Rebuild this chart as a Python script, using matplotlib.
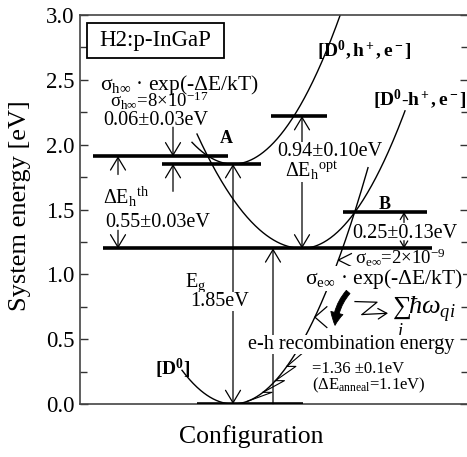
import numpy as np
import matplotlib.pyplot as plt
from matplotlib.patches import Rectangle, FancyArrowPatch

plt.rcParams["font.family"] = ["Liberation Serif", "DejaVu Serif"]
plt.rcParams["mathtext.fontset"] = "custom"
plt.rcParams["mathtext.rm"] = "Liberation Serif"
plt.rcParams["mathtext.it"] = "Liberation Serif:italic"
plt.rcParams["mathtext.bf"] = "Liberation Serif:bold"

# ---------------------------------------------------------------
# Energies [eV]
# ---------------------------------------------------------------
E_TH = 1.91        # thermal hole emission level
E_A = 1.85         # band gap, [D0, h+, e-] minimum
E_OPT = 2.22       # optical hole emission level
E_SHALLOW = 1.20   # [D0-h+, e-] minimum
E_B = 1.48         # crossing B
E_GROUND = 0.0     # [D0] minimum

level_energy = [E_TH, E_A, E_OPT, E_SHALLOW, E_B, E_GROUND]
level_span = [(0.13, 1.48), (0.82, 1.81), (1.91, 2.47),
              (0.23, 3.52), (2.63, 3.47), (1.17, 2.23)]

# parabolas: minimum position, minimum energy, curvature left/right, drawn range
curve_q0 = [1.53, 1.53, 2.22]
curve_e0 = [E_GROUND, E_A, E_SHALLOW]
curve_k = [(1.0, 1.0), (1.0, 1.0), (0.8, 1.0)]
curve_range = [(1.02, 2.88), (1.12, 2.62), (1.17, 3.25)]

ytick_major = [0.0, 0.5, 1.0, 1.5, 2.0, 2.5, 3.0]


def parabola(q, q0, e0, kl, kr):
    k = np.where(q < q0, kl, kr)
    return e0 + k * (q - q0) ** 2


def d0_q(e):
    # right branch of the [D0] curve at energy e
    return curve_q0[0] + np.sqrt(e / curve_k[0][1])


fig = plt.figure(figsize=(4.67, 4.57), dpi=100)
ax = fig.add_axes([80 / 467, 53 / 457, 388 / 467, 389 / 457])

# ---------------------------------------------------------------
# Curves and levels
# ---------------------------------------------------------------
for q0, e0, (kl, kr), (qa, qb) in zip(curve_q0, curve_e0, curve_k, curve_range):
    q = np.linspace(qa, qb, 300)
    ax.plot(q, parabola(q, q0, e0, kl, kr), color="black", lw=1.0, zorder=2)

for e, (qa, qb) in zip(level_energy, level_span):
    ax.plot([qa, qb], [e, e], color="black", lw=2.6, solid_capstyle="butt", zorder=3)


def arrow(q, e_from, e_to, style="->", scale=20, hl=0.45, hw=0.27):
    ax.annotate("", xy=(q, e_to), xytext=(q, e_from),
                arrowprops=dict(arrowstyle=f"{style},head_length={hl},head_width={hw}",
                                lw=0.9, color="black", shrinkA=0, shrinkB=0,
                                mutation_scale=scale), zorder=2)


arrow(0.38, 1.77, E_TH)
arrow(0.38, 1.34, E_SHALLOW)
arrow(0.93, 2.135, E_TH)
arrow(0.93, 1.64, E_A)
arrow(1.53, E_GROUND, E_A, style="<->")
arrow(2.22, E_SHALLOW, E_OPT, style="<->")
arrow(1.93, E_GROUND, E_SHALLOW)
arrow(3.24, 1.40, E_B, scale=10)
arrow(3.24, 1.26, E_SHALLOW, scale=10)

# phonon emission hooks along the [D0] curve
for e, dq, de in [(1.11, 0.13, 0.05), (0.67, 0.12, 0.08)]:
    q = d0_q(e)
    ax.plot([q + dq, q, q + dq], [e + de, e, e - de], color="black", lw=0.9)

hook_e = [0.02, 0.09, 0.18, 0.29, 0.42]
for ea, eb in zip(hook_e[:-1], hook_e[1:]):
    qa, qb = d0_q(ea), d0_q(eb)
    ax.plot([qa, max(qa, qb) + 0.09, qb], [ea, eb, eb], color="black", lw=0.8)

# cascade arrows
ax.add_patch(FancyArrowPatch((2.70, 0.88), (2.55, 0.585),
                             connectionstyle="arc3,rad=0.2",
                             arrowstyle="simple,head_length=0.9,head_width=0.9,tail_width=0.35",
                             mutation_scale=10, fc="black", ec="black", lw=0.6, zorder=4))
ax.plot([2.75, 2.97, 2.82], [0.79, 0.785, 0.69], color="black", lw=0.9)
ax.annotate("", xy=(3.08, 0.70), xytext=(2.82, 0.69),
            arrowprops=dict(arrowstyle="->,head_length=0.45,head_width=0.27",
                            lw=0.9, color="black", shrinkA=0, shrinkB=0,
                            mutation_scale=14))

# ---------------------------------------------------------------
# Labels
# ---------------------------------------------------------------
white = dict(fc="white", ec="none", pad=0.2)
fs = 14.5
bl = dict(va="baseline")

ax.add_patch(Rectangle((0.07, 2.67), 1.37, 0.27, fc="white", ec="black", lw=1.3, zorder=4))
ax.text(0.755, 2.805, "H2:p-InGaP", fontsize=16.5, ha="center", va="center", zorder=5)

ax.text(0.20, 2.425, r"σ$_{\mathrm{h}\infty}$ · exp(-ΔE/kT)", fontsize=15.5, **bl)
ax.text(0.30, 2.285, r"σ$_{\mathrm{h}\infty}$=8×10$^{\mathrm{-17}}$", fontsize=13.5, **bl)
ax.text(0.23, 2.15, "0.06±0.03eV", fontsize=fs, **bl)
ax.text(1.46, 2.05, "A", fontsize=13, fontweight="bold", ha="center", va="center")
ax.text(0.23, 1.546, r"ΔE$_{\mathrm{h}}$$^{\mathrm{th}}$", fontsize=fs, **bl)
ax.text(0.25, 1.365, "0.55±0.03eV", fontsize=fs, **bl)
ax.text(1.05, 0.90, r"E$_{\mathrm{g}}$", fontsize=fs, **bl)
ax.text(1.10, 0.756, "1.85eV", fontsize=fs, bbox=white, **bl)
ax.text(0.93, 0.224, r"$\mathbf{[D^0]}$", fontsize=14, ha="center", **bl)

ax.text(2.37, 2.675, r"$\mathbf{[D^0, h^+, e^-]}$", fontsize=14, **bl)
ax.text(2.93, 2.30, r"$\mathbf{[D^0\text{-}h^+, e^-]}$", fontsize=14, **bl)
ax.text(1.97, 1.91, "0.94±0.10eV", fontsize=fs, bbox=white, **bl)
ax.text(2.05, 1.75, r"ΔE$_{\mathrm{h}}$$^{\mathrm{opt}}$", fontsize=fs, bbox=white, **bl)
ax.text(3.05, 1.54, "B", fontsize=13, fontweight="bold", ha="center", va="center")
ax.text(2.72, 1.28, "0.25±0.13eV", fontsize=fs, **bl)
ax.text(2.75, 1.075, r"σ$_{\mathrm{e}\infty}$=2×10$^{\mathrm{-9}}$", fontsize=13.5, **bl)
ax.text(2.25, 0.928, r"σ$_{\mathrm{e}\infty}$ · exp(-ΔE/kT)", fontsize=15.5, bbox=white, **bl)
ax.text(3.12, 0.675, r"$\sum_{i}\hbar\omega_{qi}$", fontsize=19, va="center")
ax.text(1.68, 0.424, "e-h recombination energy", fontsize=fs, bbox=white, **bl)
ax.text(2.32, 0.236, "=1.36 ±0.1eV", fontsize=12, **bl)
ax.text(2.32, 0.115, r"(ΔE$_{\mathrm{anneal}}$=1.1eV)", fontsize=12, **bl)

# ---------------------------------------------------------------
# Axes
# ---------------------------------------------------------------
ax.set_xlim(0, 3.88)
ax.set_ylim(0, 3.0)
ax.set_xticks([])
ax.set_yticks(ytick_major)
ax.set_yticklabels([f"{v:.1f}" for v in ytick_major])
ax.set_yticks(np.arange(0.25, 3.0, 0.5), minor=True)
ax.tick_params(axis="y", which="both", direction="in", right=True, labelsize=16.5, pad=4,
               color="#333333")
ax.tick_params(axis="y", which="major", length=6, width=1.0)
ax.tick_params(axis="y", which="minor", length=5, width=1.0)
for s in ax.spines.values():
    s.set_color("#444444")
    s.set_linewidth(1.2)

ax.set_ylabel("System energy [eV]", fontsize=19)
ax.yaxis.set_label_coords(-0.125, 0.51)
ax.set_xlabel("Configuration", fontsize=18.5)
ax.xaxis.set_label_coords(0.441, -0.055)

fig.savefig("out.png", dpi=100)
